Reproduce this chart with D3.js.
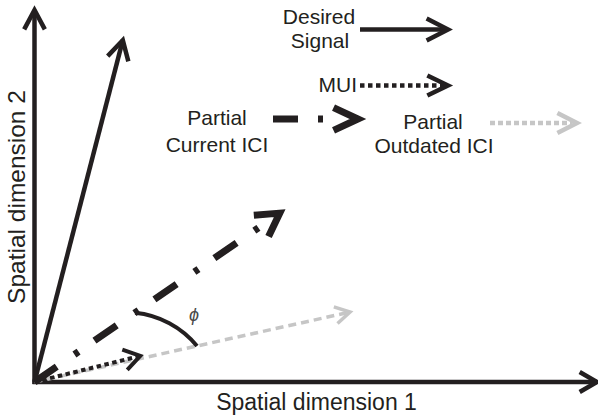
<!DOCTYPE html>
<html>
<head>
<meta charset="utf-8">
<script src="https://cdn.jsdelivr.net/npm/d3@7"></script>
<style>
  html, body { margin: 0; padding: 0; background: #fff; }
  svg { display: block; }
  text { font-family: "Liberation Sans", Arial, sans-serif; fill: #231f20; }
</style>
</head>
<body>
<svg id="chart" width="598" height="416"></svg>
<script>
// ---- data (abstract units: both axes run 0..100) ----
const vectorNames = ["Desired Signal", "Partial Current ICI", "MUI", "Partial Outdated ICI"];
const vectorX = [15.7, 43.6, 18.8, 56.1];
const vectorY = [91.9, 45.4, 7.0, 18.8];
const axisLabels = ["Spatial dimension 1", "Spatial dimension 2"];
const legendLines = [["Desired", "Signal"], ["MUI"], ["Partial", "Current ICI"], ["Partial", "Outdated ICI"]];
const angleLabel = "\u03D5";
const arcFractions = [0.41, 0.515]; // where the φ arc meets the Current ICI and Outdated ICI vectors

const W = 598, H = 416;
const svg = d3.select("#chart");
const x = d3.scaleLinear().domain([0, 100]).range([34.5, 597]);
const y = d3.scaleLinear().domain([0, 100]).range([382, 10]);

const ink = "#231f20", grey = "#c6c6c6";
const styles = [
  { color: ink, width: 4.5, dash: null, head: 22, ang: 29 },
  { color: ink, width: 7, dash: "27,21.5,5,19.3", head: 26, ang: 30 },
  { color: ink, width: 4, dash: "4.5,3.5", head: 19, ang: 33 },
  { color: grey, width: 3.5, dash: "8,5", head: 17, ang: 30 }
];

function chevron(g, tx, ty, dx, dy, len, angDeg, color, width) {
  const a = Math.atan2(-dy, -dx);
  const t = angDeg * Math.PI / 180;
  const p1 = [tx + len * Math.cos(a + t), ty + len * Math.sin(a + t)];
  const p2 = [tx + len * Math.cos(a - t), ty + len * Math.sin(a - t)];
  g.append("path")
    .attr("d", d3.line()([p1, [tx, ty], p2]))
    .attr("fill", "none").attr("stroke", color).attr("stroke-width", width)
    .attr("stroke-linejoin", "miter").attr("stroke-miterlimit", 10).attr("stroke-linecap", "butt");
}

function arrow(g, x0, y0, x1, y1, st, headShorten) {
  const dx = x1 - x0, dy = y1 - y0, L = Math.hypot(dx, dy);
  const s = headShorten || 0;
  const ex = x1 - dx / L * s, ey = y1 - dy / L * s;
  const p = g.append("path")
    .attr("d", d3.line()([[x0, y0], [ex, ey]]))
    .attr("fill", "none").attr("stroke", st.color).attr("stroke-width", st.width)
    .attr("stroke-linecap", "butt");
  if (st.dash) p.attr("stroke-dasharray", st.dash);
  chevron(g, x1, y1, dx, dy, st.head, st.ang, st.color, st.width);
}

// ---- axes ----
const axes = svg.append("g");
axes.append("path").attr("d", d3.line()([[x(0), y(0) + 2], [x(0), y(100)]]))
  .attr("stroke", ink).attr("stroke-width", 4.5).attr("fill", "none");
axes.append("path").attr("d", d3.line()([[x(0) - 2, y(0)], [x(100), y(0)]]))
  .attr("stroke", ink).attr("stroke-width", 4.5).attr("fill", "none");
chevron(axes, x(0), y(100), 0, -1, 22, 28, ink, 4.5);
chevron(axes, x(100), y(0), 1, 0, 20, 30, ink, 4.5);

axes.append("text").attr("x", 316.5).attr("y", 410).attr("text-anchor", "middle")
  .attr("font-size", 23).text(axisLabels[0]);
axes.append("text").attr("transform", "translate(25,197) rotate(-90)").attr("text-anchor", "middle")
  .attr("font-size", 24.5).text(axisLabels[1]);

// ---- vectors (draw grey first so black overlaps) ----
const vg = svg.append("g");
[3, 2, 1, 0].forEach(i => {
  arrow(vg, x(0), y(0), x(vectorX[i]), y(vectorY[i]), styles[i], i === 1 ? 4 : 0);
});

// ---- φ arc ----
const f0 = arcFractions[0], f1 = arcFractions[1];
const sx = x(vectorX[1] * f0), sy = y(vectorY[1] * f0);
const ex = x(vectorX[3] * f1), ey = y(vectorY[3] * f1);
svg.append("path")
  .attr("d", `M${sx},${sy} A92,92 0 0 1 ${ex},${ey}`)
  .attr("fill", "none").attr("stroke", ink).attr("stroke-width", 4);
svg.append("text").attr("x", (sx + ex) / 2 + 28).attr("y", (sy + ey) / 2 - 8)
  .attr("text-anchor", "middle")
  .attr("font-family", "'DejaVu Serif', serif").attr("font-style", "italic")
  .attr("font-size", 18).style("fill", "#4a4a4a").text(angleLabel);

// ---- legend ----
const lg = svg.append("g");
const fs = 21;
// Desired Signal
lg.append("text").attr("x", 319).attr("y", 24).attr("text-anchor", "middle").attr("font-size", fs).text(legendLines[0][0]);
lg.append("text").attr("x", 320).attr("y", 48).attr("text-anchor", "middle").attr("font-size", fs).text(legendLines[0][1]);
arrow(lg, 360, 29.5, 448, 29.5, { color: ink, width: 4.5, dash: null, head: 24, ang: 27 });
// MUI
lg.append("text").attr("x", 357).attr("y", 92).attr("text-anchor", "end").attr("font-size", fs).text(legendLines[1][0]);
lg.append("path").attr("d", d3.line()([[360, 85.5], [444, 85.5]]))
  .attr("stroke", ink).attr("stroke-width", 4.5).attr("stroke-dasharray", "4.5,3.5").attr("fill", "none");
chevron(lg, 448, 85.5, 1, 0, 23, 26, ink, 4.5);
// Partial Current ICI
lg.append("text").attr("x", 217).attr("y", 125).attr("text-anchor", "middle").attr("font-size", fs).text(legendLines[2][0]);
lg.append("text").attr("x", 217).attr("y", 152).attr("text-anchor", "middle").attr("font-size", fs).text(legendLines[2][1]);
lg.append("path").attr("d", d3.line()([[273, 119], [330, 119]]))
  .attr("stroke", ink).attr("stroke-width", 7).attr("stroke-dasharray", "25,20,5,40").attr("fill", "none");
chevron(lg, 358, 119, 1, 0, 27, 25, ink, 7);
// Partial Outdated ICI
lg.append("text").attr("x", 433).attr("y", 129).attr("text-anchor", "middle").attr("font-size", fs).text(legendLines[3][0]);
lg.append("text").attr("x", 434).attr("y", 153).attr("text-anchor", "middle").attr("font-size", fs).text(legendLines[3][1]);
lg.append("path").attr("d", d3.line()([[490, 123], [572, 123]]))
  .attr("stroke", grey).attr("stroke-width", 4.5).attr("stroke-dasharray", "5,3").attr("fill", "none");
chevron(lg, 577, 123, 1, 0, 22, 27, grey, 4.5);
</script>
</body>
</html>
